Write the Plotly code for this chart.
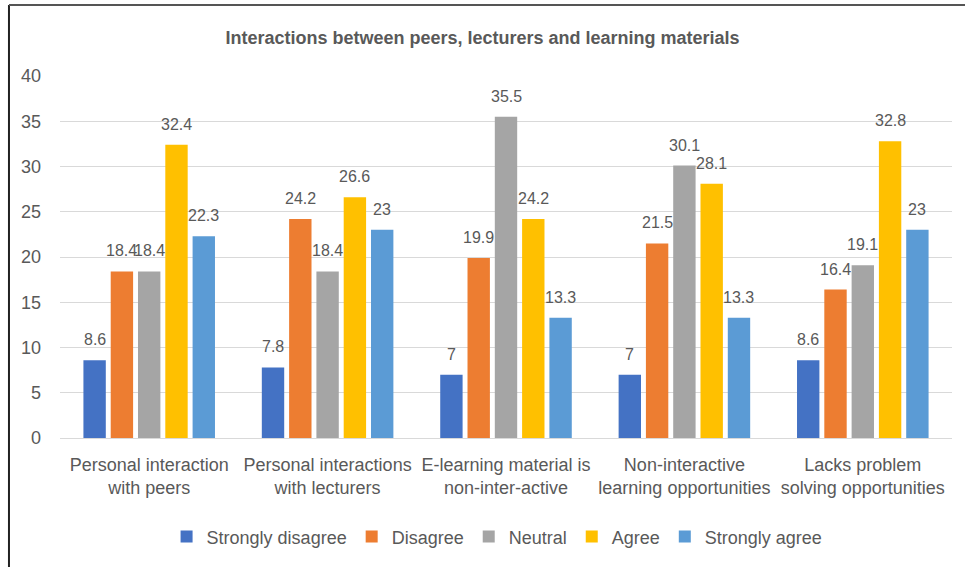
import plotly.graph_objects as go

categories = [
    "Personal interaction<br>with peers",
    "Personal interactions<br>with lecturers",
    "E-learning material is<br>non-inter-active",
    "Non-interactive<br>learning opportunities",
    "Lacks problem<br>solving opportunities",
]
series_names = ["Strongly disagree", "Disagree", "Neutral", "Agree", "Strongly agree"]
strongly_disagree = [8.6, 7.8, 7, 7, 8.6]
disagree = [18.4, 24.2, 19.9, 21.5, 16.4]
neutral = [18.4, 18.4, 35.5, 30.1, 19.1]
agree = [32.4, 26.6, 24.2, 28.1, 32.8]
strongly_agree = [22.3, 23, 13.3, 13.3, 23]
colors = ["#4472C4", "#ED7D31", "#A5A5A5", "#FFC000", "#5B9BD5"]
y_ticks = [0, 5, 10, 15, 20, 25, 30, 35, 40]

FONT = "Liberation Sans, Arial, sans-serif"
GRAY = "#595959"

W, H = 965, 567
ML, MR, MT, MB = 60, 13, 76, 129
BARGAP = 0.235
plot_w = W - ML - MR
slot = plot_w / len(categories) * (1 - BARGAP) / len(series_names)

all_series = [strongly_disagree, disagree, neutral, agree, strongly_agree]

fig = go.Figure()
annotations = []
for i, (name, vals, col) in enumerate(zip(series_names, all_series, colors)):
    fig.add_trace(go.Bar(
        x=categories, y=vals, name=name,
        marker=dict(color=col, line=dict(width=0)),
        cliponaxis=False,
    ))
    for c, v in zip(categories, vals):
        annotations.append(dict(
            x=c, y=v, xref="x", yref="y", text=str(v), showarrow=False,
            xanchor="center", yanchor="bottom",
            xshift=(i - (len(series_names) - 1) / 2) * slot, yshift=10,
            font=dict(size=16, color=GRAY, family=FONT),
        ))

fig.update_layout(
    width=W, height=H,
    margin=dict(l=ML, r=MR, t=MT, b=MB),
    paper_bgcolor="white", plot_bgcolor="white",
    font=dict(family=FONT, color=GRAY, size=18),
    title=dict(text="<b>Interactions between peers, lecturers and learning materials</b>",
               x=0.5, xanchor="center", y=1 - 38 / H, yanchor="middle",
               font=dict(size=18, color=GRAY, family=FONT)),
    barmode="group", bargap=BARGAP, bargroupgap=0.18,
    showlegend=True,
    legend=dict(orientation="h", x=0.49, xanchor="center", y=-0.273, yanchor="middle",
                font=dict(size=18, color=GRAY), traceorder="normal"),
    xaxis=dict(showgrid=False, showline=True, linecolor="#D9D9D9", linewidth=1,
               ticks="", tickfont=dict(size=18, color=GRAY), ticklabelstandoff=10),
    yaxis=dict(range=[0, 40], tickvals=y_ticks, showgrid=True, gridcolor="#D9D9D9",
               gridwidth=1, zeroline=False, showline=False, ticks="",
               tickfont=dict(size=18, color=GRAY), ticklabelstandoff=18),
    annotations=annotations,
    shapes=[
        dict(type="line", xref="paper", yref="paper", x0=-0.0572, x1=-0.0572,
             y0=1.196, y1=-0.4, line=dict(color="#222222", width=2)),
        dict(type="line", xref="paper", yref="paper", x0=-0.0572, x1=1.02,
             y0=1.196, y1=1.196, line=dict(color="#555555", width=2)),
    ],
)

fig.write_html("out.html")
